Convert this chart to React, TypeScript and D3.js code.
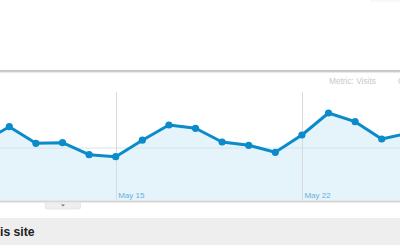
import React from "react";
import * as d3 from "d3";

const days: string[] = [
  "2011-05-10", "2011-05-11", "2011-05-12", "2011-05-13", "2011-05-14", "2011-05-15",
  "2011-05-16", "2011-05-17", "2011-05-18", "2011-05-19", "2011-05-20", "2011-05-21",
  "2011-05-22", "2011-05-23", "2011-05-24", "2011-05-25", "2011-05-26",
];
const visits: number[] = [
  1110, 1410, 1090, 1102, 871, 833, 1150, 1442, 1379, 1115, 1052, 917, 1250, 1673, 1506, 1173, 1283,
];
const tickDays: string[] = ["2011-05-15", "2011-05-22"];
const tickLabels: string[] = ["May 15", "May 22"];
const metricLabel = "Metric: Visits";
const sectionTitle = "is site";

const parse = d3.timeParse("%Y-%m-%d");

export default function App() {
  const W = 400, H = 250;
  const dates = days.map((d) => parse(d) as Date);
  const x = d3.scaleTime().domain([dates[0], dates[dates.length - 1]]).range([-17.3, 408.3]);
  const y = d3.scaleLinear().domain([0, 2000]).range([200, 96]);
  const data = dates.map((d, i) => ({ d, v: visits[i] }));
  const line = d3.line<{ d: Date; v: number }>().x((p) => x(p.d)).y((p) => y(p.v));
  const area = d3.area<{ d: Date; v: number }>().x((p) => x(p.d)).y0(y(0)).y1((p) => y(p.v));
  const font = "'Liberation Sans', Arial, sans-serif";

  return (
    <svg width={W} height={H} style={{ position: "fixed", left: 0, top: 0, background: "#fff" }}>
      <rect x={0} y={0} width={W} height={H} fill="#fff" />
      <line x1={370} x2={400} y1={1} y2={1} stroke="#f2f2f2" />
      <rect x={0} y={70.5} width={W} height={1} fill="#8c8c8c" />
      <rect x={0} y={71.5} width={W} height={1} fill="#d4d4d4" />
      <text x={329} y={84} fontFamily={font} fontSize={8.3} fill="#c8c8c8">{metricLabel}</text>
      <text x={398} y={84} fontFamily={font} fontSize={8.3} fill="#c8c8c8">C</text>
      <path d={area(data) || ""} fill="#e5f3fa" />
      <line x1={0} x2={W} y1={y(1000)} y2={y(1000)} stroke="#d3e4ec" strokeWidth={1} />
      {tickDays.map((t) => {
        const tx = Math.round(x(parse(t) as Date)) + 0.5;
        return <line key={t} x1={tx} x2={tx} y1={92} y2={200} stroke="#dadada" strokeWidth={1} />;
      })}
      {tickDays.map((t, i) => (
        <text key={t} x={x(parse(t) as Date) + 2.5} y={198} fontFamily={font} fontSize={8} fill="#68b0dc">
          {tickLabels[i]}
        </text>
      ))}
      <path d={line(data) || ""} fill="none" stroke="#0b8bc9" strokeWidth={3} strokeLinejoin="round" />
      {data.map((p, i) => (
        <circle key={i} cx={x(p.d)} cy={y(p.v)} r={3.6} fill="#0b8bc9" />
      ))}
      <rect x={0} y={200} width={W} height={1} fill="#e6e6e6" />
      <rect x={0} y={201} width={W} height={1.5} fill="#d6d6d6" />
      <rect x={45.5} y={202} width={35} height={7} fill="#eeeeee" stroke="#dcdcdc" strokeWidth={0.6} rx={1.5} />
      <path d="M61,204.5 L65,204.5 L63,206.5 Z" fill="#777" />
      <rect x={0} y={218} width={W} height={27} fill="#eeeeee" />
      <text x={0} y={236} fontFamily={font} fontSize={12.2} fontWeight="bold" fill="#222">{sectionTitle}</text>
    </svg>
  );
}
